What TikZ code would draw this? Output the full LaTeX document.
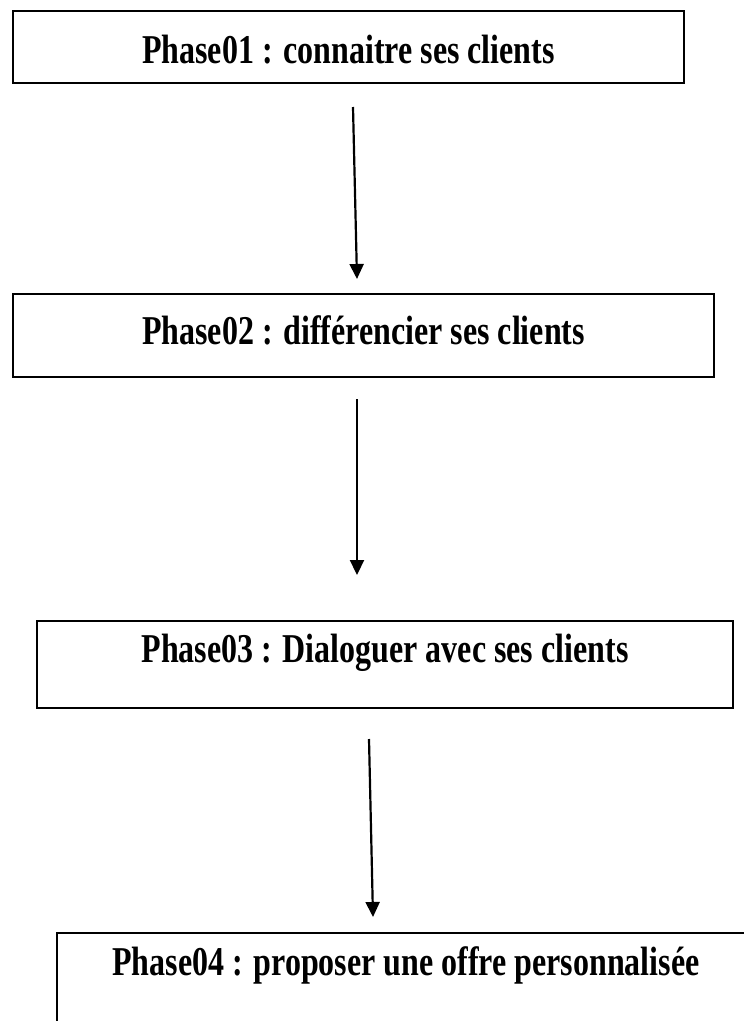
\documentclass[tikz,border=0pt]{standalone}
\usepackage{fontspec}
\setmainfont{Liberation Serif}
\usepackage{graphicx}
\usetikzlibrary{arrows.meta}

\newcommand{\tallbf}[1]{\scalebox{1}[1.28]{\bfseries #1}}

\begin{document}
\begin{tikzpicture}[x=1pt,y=-1pt,-,>={Triangle[length=15pt,width=14pt]},
  box/.style={rectangle,draw,line width=1.8pt,inner sep=0pt},
  phase text/.style={inner sep=0pt,font=\fontsize{32}{38}\selectfont},
  flow/.style={->,line width=2.2pt}]

            \useasboundingbox (0,0) rectangle (744,1021);

            \node[box, minimum width=671pt, minimum height=72pt] (1) at (348.5,47) {};
            \node[box, minimum width=701pt, minimum height=83pt] (2) at (363.5,335.5) {};
            \node[box, minimum width=696pt, minimum height=87pt] (3) at (385,664.5) {};
            \node[box, minimum width=698pt, minimum height=100pt] (4) at (406,983) {};

            \node[phase text] (t1) at (348.5,50) {\tallbf{Phase01 : connaitre ses clients}};
            \node[phase text] (t2) at (363.5,330) {\tallbf{Phase02 : différencier ses clients}};
            \node[phase text] (t3) at (385,653) {\tallbf{Phase03 : Dialoguer avec ses clients}};
            \node[phase text] (t4) at (406,965) {\tallbf{Phase04 : proposer une offre personnalisée}};

            \coordinate (a1) at (353,107);
            \coordinate (b1) at (357,279);
            \coordinate (a2) at (357,399);
            \coordinate (b2) at (357,575);
            \coordinate (a3) at (369,739);
            \coordinate (b3) at (373,917);

            \draw[flow] (a1) to (b1);
            \draw[flow] (a2) to (b2);
            \draw[flow] (a3) to (b3);

            ;
        \end{tikzpicture}
\end{document}
